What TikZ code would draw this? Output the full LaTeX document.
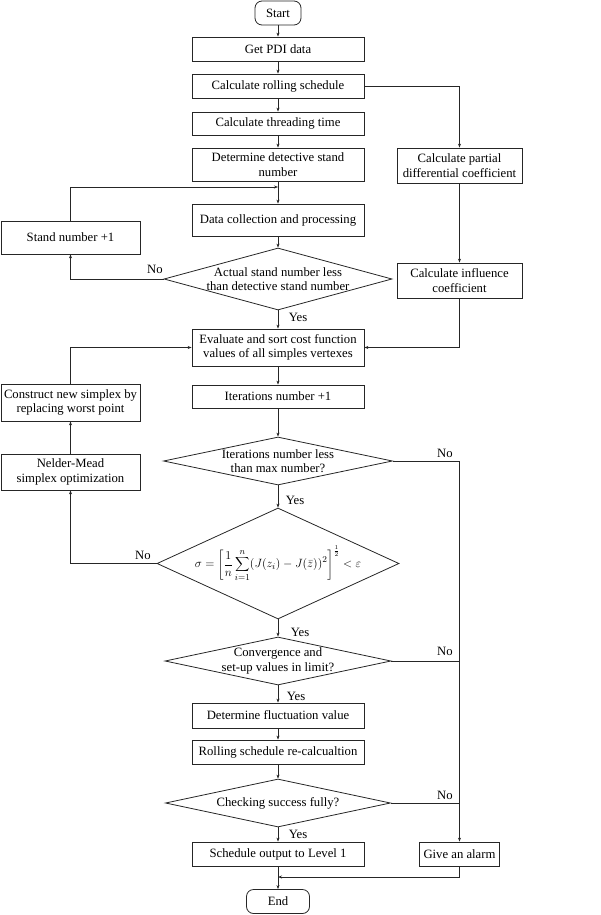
\documentclass[tikz,border=0pt]{standalone}
\usepackage{fontspec}
\setmainfont{Liberation Serif}
\usetikzlibrary{shapes.geometric,arrows.meta}
\begin{document}
\begin{tikzpicture}[x=1pt,y=-1pt,
  every node/.style={font=\fontsize{12.7}{14.5}\selectfont, text=black},
  line/.style={draw=black!85, line width=0.7pt},
  arr/.style={line, -{Stealth[length=4pt,width=3pt]}},
  box/.style={draw=black!85, line width=0.8pt, rectangle, align=center, inner sep=1pt},
  mbox/.style={box, minimum width=172pt},
  sbox/.style={box, minimum width=139pt},
  term/.style={draw=black!85, line width=0.8pt, rounded corners=7pt, minimum width=#1, minimum height=24pt, inner sep=1pt},
  dia/.style={draw=black!85, line width=0.8pt, diamond, inner sep=0pt, minimum width=#1},
  lab/.style={inner sep=0pt}
]
\useasboundingbox (0,0) rectangle (600,915);
% terminals
\node[term=46pt] (start) at (278,13) {Start};
\node[term=63pt] (end) at (278,901.5) {End};
% main column
\node[mbox, minimum height=24pt] (pdi) at (278,49) {Get PDI data};
\node[mbox, minimum height=24pt] (roll) at (278,86) {Calculate rolling schedule};
\node[mbox, minimum height=23pt] (thread) at (278,123.5) {Calculate threading time};
\node[mbox, minimum height=33pt] (det) at (278,164.5) {Determine detective stand\\number};
\node[mbox, minimum height=32pt] (data) at (278,220) {Data collection and processing};
\node[dia=228pt, minimum height=62pt, label={[lab, align=center]center:Actual stand number less\\than detective stand number}] (d1) at (278,279) {};
\node[mbox, minimum height=37pt] (eval) at (278,347.5) {Evaluate and sort cost function\\values of all simples vertexes};
\node[mbox, minimum height=23pt] (iter) at (278,396.5) {Iterations number +1};
\node[dia=229pt, minimum height=48pt, label={[lab, align=center]center:Iterations number less\\than max number?}] (d2) at (278,461) {};
\node[dia=242pt, minimum height=111pt, label={[lab]center:$\displaystyle \sigma=\left[\frac{1}{n}\sum_{i=1}^{n}\bigl(J(z_i)-J(\bar{z})\bigr)^2\right]^{\frac{1}{2}}<\varepsilon$}] (d3) at (278,563.5) {};
\node[dia=226pt, minimum height=48pt, label={[lab, align=center]center:Convergence and\\set-up values in limit?}] (d4) at (278,661) {};
\node[mbox, minimum height=25pt] (fluct) at (278,715.5) {Determine fluctuation value};
\node[mbox, minimum height=24pt] (rollre) at (278,752) {Rolling schedule re-calcualtion};
\node[dia=225pt, minimum height=48pt, label={[lab]center:Checking success fully?}] (d5) at (278,803) {};
\node[mbox, minimum height=24pt] (sched) at (278,854) {Schedule output to Level 1};
% right column
\node[box, minimum width=125pt, minimum height=35pt] (partial) at (459.5,165.5) {Calculate partial\\differential coefficient};
\node[box, minimum width=125pt, minimum height=35pt] (infl) at (459.5,280.5) {Calculate influence\\coefficient};
\node[box, minimum width=80pt, minimum height=24pt] (alarm) at (459.5,854) {Give an alarm};
% left column
\node[sbox, minimum height=33pt] (stand) at (70.5,237.5) {Stand number +1};
\node[sbox, minimum height=37pt] (constr) at (70.5,402.5) {Construct new simplex by\\replacing worst point};
\node[sbox, minimum height=36pt] (nelder) at (70.5,472) {Nelder-Mead\\simplex optimization};
% helper coordinates
\coordinate (c1) at (278,187);
\coordinate (c2) at (278,877);
\coordinate (j4) at (459.5,661);
\coordinate (j5) at (459.5,803);
% connectors main
\draw[arr] (start) -- (pdi);
\draw[arr] (pdi) -- (roll);
\draw[arr] (roll) -- (thread);
\draw[arr] (thread) -- (det);
\draw[arr] (det) -- (data);
\draw[arr] (data) -- (d1);
\draw[arr] (d1) -- (eval);
\draw[arr] (eval) -- (iter);
\draw[arr] (iter) -- (d2);
\draw[arr] (d2) -- (d3);
\draw[arr] (d3) -- (d4);
\draw[arr] (d4) -- (fluct);
\draw[arr] (fluct) -- (rollre);
\draw[arr] (rollre) -- (d5);
\draw[arr] (d5) -- (sched);
\draw[arr] (sched) -- (end);
% right side
\draw[arr] (roll.east) -| (partial.north);
\draw[arr] (partial) -- (infl);
\draw[arr] (infl.south) |- (eval.east);
\draw[arr] (d2.east) -| (alarm.north);
\draw[line] (d4.east) -- (j4);
\draw[line] (d5.east) -- (j5);
\draw[arr] (alarm.south) |- (c2);
% left side
\draw[arr] (d1.west) -| (stand.south);
\draw[arr] (stand.north) |- (c1);
\draw[arr] (d3.west) -| (nelder.south);
\draw[arr] (nelder) -- (constr);
\draw[arr] (constr.north) |- (eval.west);
% labels
\node[lab] (n1) at (155,269) {No};
\node[lab] (y1) at (298,317.5) {Yes};
\node[lab] (n2) at (445,453) {No};
\node[lab] (y2) at (295,500) {Yes};
\node[lab] (n3) at (143,555) {No};
\node[lab] (y3) at (300,632) {Yes};
\node[lab] (n4) at (445,651) {No};
\node[lab] (y4) at (296,696) {Yes};
\node[lab] (n5) at (445,795) {No};
\node[lab] (y5) at (298,834) {Yes};
\end{tikzpicture}
\end{document}
